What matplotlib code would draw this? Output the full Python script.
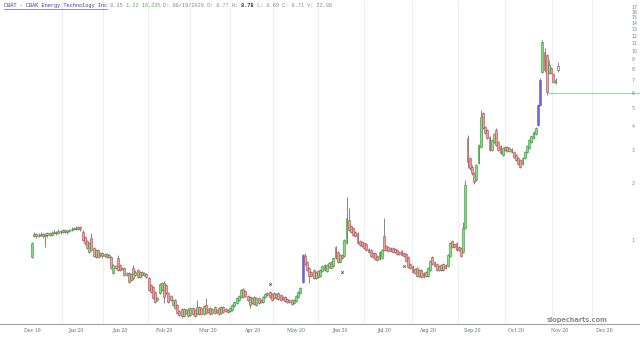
import numpy as np
import matplotlib
matplotlib.use("Agg")
import matplotlib.pyplot as plt
import matplotlib.ticker as ticker
from matplotlib.lines import Line2D

# daily OHLC, one entry per trading day (log price axis)
opens = [
    .813, 1.050, 1.076, 1.050, 1.063, 1.076, 1.050, 1.063, 1.089, 1.063,
    1.089, 1.102, 1.089, 1.116, 1.102, 1.129, 1.102, 1.116, 1.129, 1.143,
    1.157, 1.143, 1.171, 1.102, 1.037, .988, .864, 1.025, .907, .813,
    .886, .833, .854, .823, .844, .813, .813, .670, .729, .803,
    .738, .703, .711, .654, .670, .615, .711, .654, .695, .638,
    .678, .654, .661, .630, .579, .565, .532, .482, .525, .545,
    .593, .579, .525, .506, .454, .482, .454, .422, .432, .397,
    .427, .432, .402, .438, .427, .407, .443, .438, .407, .454,
    .432, .438, .412, .443, .427, .438, .412, .443, .432, .427,
    .422, .427, .448, .465, .482, .500, .551, .538, .506, .500,
    .465, .500, .454, .494, .482, .471, .500, .525, .532, .519,
    .525, .494, .525, .513, .500, .500, .488, .482, .482, .465,
    .477, .500, .525, .600, .823, .765, .711, .678, .695, .630,
    .686, .646, .686, .738, .686, .720, .765, .729, .919, .864,
    .765, .833, .823, .964, 1.275, 1.186, 1.157, 1.102, 1.089, .988,
    .976, .964, .953, .897, .886, .854, .854, .823, .794, .803,
    1.050, .930, .919, .907, .907, .897, .886, .864, .875, .854,
    .844, .813, .747, .729, .703, .711, .646, .695, .670, .678,
    .646, .695, .813, .765, .747, .729, .695, .747, .738, .729,
    .823, .988, .953, .964, .919, .907, .864, 1.157, 3.455, 2.711,
    2.430, 2.259, 2.075, 2.551, 3.098, 4.683, 3.951, 3.809, 3.497, 2.987,
    3.292, 3.809, 3.292, 3.136, 2.811, 3.098, 3.098, 2.951, 3.024, 2.915,
    2.811, 2.711, 2.646, 2.520, 2.711, 2.915, 3.060, 3.292, 3.455, 3.627,
    4.048, 5.163, 7.710, 9.840, 9.490, 7.620, 8.100, 7.530, 6.750, 7.900,
]
highs = [
    .976, 1.102, 1.089, 1.089, 1.102, 1.089, 1.089, 1.102, 1.102, 1.116,
    1.129, 1.116, 1.143, 1.129, 1.143, 1.143, 1.129, 1.143, 1.171, 1.171,
    1.186, 1.186, 1.186, 1.129, 1.050, 1.000, .976, 1.089, .919, .897,
    .897, .864, .864, .854, .854, .844, .823, .747, .738, .833,
    .747, .720, .720, .678, .678, .670, .738, .695, .703, .686,
    .686, .678, .670, .638, .586, .572, .538, .500, .593, .600,
    .608, .586, .532, .513, .488, .488, .460, .427, .438, .438,
    .432, .438, .443, .443, .432, .482, .448, .443, .454, .494,
    .438, .443, .438, .448, .432, .443, .448, .448, .438, .432,
    .443, .460, .477, .500, .513, .551, .558, .545, .513, .506,
    .500, .506, .500, .500, .488, .506, .525, .532, .538, .525,
    .532, .525, .532, .519, .506, .506, .494, .488, .488, .488,
    .513, .538, .565, .844, .854, .775, .720, .686, .703, .686,
    .695, .703, .738, .747, .747, .765, .775, .813, .930, .875,
    .844, .844, 1.012, 1.687, 1.476, 1.200, 1.171, 1.116, 1.102, 1.000,
    .988, .976, .964, .907, .897, .864, .864, .833, .875, .897,
    1.307, .941, .930, .919, .919, .907, .897, .875, .886, .864,
    .854, .823, .756, .738, .711, .720, .703, .703, .678, .686,
    .720, .784, .823, .775, .756, .738, .747, .756, .747, .844,
    .976, 1.000, .964, .976, .930, .919, 1.245, 2.075, 3.584, 2.744,
    2.490, 2.286, 2.520, 3.214, 4.858, 4.742, 4.000, 3.856, 3.540, 3.415,
    3.672, 3.903, 3.333, 3.174, 3.098, 3.136, 3.136, 3.098, 3.060, 2.951,
    2.846, 2.744, 2.678, 2.744, 2.951, 3.174, 3.415, 3.584, 3.764, 3.951,
    5.227, 7.170, 11.38, 10.33, 9.600, 8.930, 8.200, 7.620, 7.170, 8.710,
]
lows = [
    .803, 1.037, 1.025, 1.037, 1.050, 1.025, .919, 1.037, 1.050, 1.050,
    1.076, 1.063, 1.076, 1.076, 1.089, 1.089, 1.076, 1.102, 1.116, 1.129,
    1.129, 1.129, 1.116, .988, .941, .897, .854, .875, .813, .803,
    .803, .813, .803, .813, .803, .803, .703, .661, .703, .686,
    .686, .695, .646, .646, .593, .608, .615, .646, .630, .630,
    .646, .646, .630, .538, .525, .488, .465, .477, .519, .538,
    .465, .519, .465, .477, .448, .432, .407, .397, .388, .392,
    .407, .392, .397, .402, .392, .402, .402, .402, .402, .407,
    .412, .402, .407, .407, .412, .402, .407, .412, .417, .412,
    .417, .422, .443, .460, .477, .494, .494, .500, .477, .438,
    .460, .454, .448, .460, .465, .465, .494, .506, .494, .477,
    .488, .488, .482, .477, .482, .471, .465, .465, .454, .460,
    .471, .494, .519, .593, .738, .686, .593, .638, .623, .623,
    .630, .638, .678, .686, .678, .711, .703, .720, .794, .756,
    .756, .794, .813, .953, 1.116, 1.089, 1.050, 1.037, .953, .930,
    .919, .897, .875, .854, .813, .803, .784, .775, .784, .794,
    .875, .875, .864, .864, .854, .854, .833, .833, .823, .813,
    .765, .711, .703, .670, .661, .638, .638, .630, .630, .638,
    .638, .686, .738, .720, .686, .686, .686, .686, .703, .720,
    .813, .907, .907, .875, .875, .813, .854, 1.143, 2.400, 2.343,
    2.205, 1.976, 2.049, 2.520, 3.060, 3.856, 3.627, 3.415, 2.951, 2.951,
    3.253, 3.136, 2.951, 2.846, 2.777, 2.951, 2.915, 2.915, 2.880, 2.711,
    2.614, 2.490, 2.400, 2.490, 2.678, 2.880, 3.024, 3.253, 3.415, 3.584,
    4.000, 5.100, 7.620, 7.710, 5.830, 7.530, 7.530, 6.750, 6.670, 7.710,
]
closes = [
    .964, 1.076, 1.050, 1.063, 1.076, 1.050, 1.063, 1.089, 1.063, 1.089,
    1.102, 1.089, 1.116, 1.102, 1.129, 1.102, 1.116, 1.129, 1.143, 1.157,
    1.143, 1.171, 1.143, 1.000, .964, .907, .964, .886, .823, .886,
    .813, .854, .823, .844, .813, .833, .711, .738, .711, .695,
    .695, .711, .654, .670, .600, .661, .630, .678, .638, .678,
    .654, .670, .638, .545, .532, .494, .471, .494, .586, .593,
    .500, .525, .471, .482, .482, .438, .412, .402, .397, .432,
    .412, .397, .438, .407, .397, .443, .407, .407, .448, .412,
    .417, .407, .432, .412, .417, .407, .443, .417, .422, .417,
    .438, .454, .471, .494, .506, .545, .500, .506, .482, .454,
    .494, .460, .494, .465, .471, .500, .519, .513, .500, .482,
    .494, .519, .488, .482, .488, .477, .471, .471, .460, .482,
    .506, .532, .558, .833, .747, .695, .646, .646, .630, .678,
    .638, .695, .729, .695, .738, .756, .711, .803, .803, .765,
    .833, .803, 1.000, 1.307, 1.129, 1.102, 1.063, 1.050, .964, .941,
    .930, .907, .886, .864, .823, .813, .794, .784, .864, .886,
    .886, .886, .875, .875, .864, .864, .844, .844, .833, .823,
    .775, .720, .711, .678, .670, .646, .695, .638, .638, .646,
    .711, .775, .747, .729, .695, .695, .738, .695, .711, .833,
    .964, .919, .919, .886, .886, .823, 1.157, 1.952, 2.582, 2.400,
    2.259, 2.024, 2.490, 3.174, 4.463, 3.903, 3.672, 3.455, 2.987, 3.373,
    3.627, 3.174, 2.987, 2.880, 3.060, 2.987, 2.951, 3.060, 2.915, 2.744,
    2.646, 2.520, 2.430, 2.711, 2.915, 3.136, 3.373, 3.540, 3.717, 3.903,
    5.163, 7.000, 11.11, 7.900, 6.050, 8.400, 7.620, 6.830, 7.000, 8.300,
]
blue_days = [123, 230, 231]

# small event markers and the horizontal alert line
event_days = [108, 141, 169]
event_prices = [0.586, 0.678, 0.729]
alert_price = 5.97
alert_from = 234.5

price_ticks = list(range(1, 18))
date_ticks = [0, 20, 40, 60, 80, 100, 120, 140, 160, 180, 200, 220, 240, 260]
date_labels = ["Dec 19", "Jan 20", "Jan 20", "Feb 20", "Mar 20", "Apr 20", "May 20",
               "Jun 20", "Jul 20", "Aug 20", "Sep 20", "Oct 20", "Nov 20", "Dec 20"]
grid_days = [13.6, 32.3, 52.7, 71.8, 90, 109.5, 130, 151, 172.7, 193.6, 215, 236.4, 254.5]

UP_FILL, UP_EDGE = "#86dc86", "#3c9c3c"
DN_FILL, DN_EDGE = "#eb9f9f", "#b05858"
BLUE = "#6767d6"

fig = plt.figure(figsize=(6.4, 3.38), dpi=100)
ax = fig.add_axes([0, 14 / 338, 1, 1 - 14 / 338])
ax.set_yscale("log")
ax.set_xlim(-14.55, 276.4)
ax.set_ylim(0.36, 18.5)

ax.vlines(grid_days, 0.36, 18.5, color="#ededed", linewidth=0.6, zorder=0)

o, h, l, c = (np.array(a) for a in (opens, highs, lows, closes))
x = np.arange(len(c))
ax.vlines(x, l, h, color="#666666", linewidth=0.55, zorder=2)

fills, edges = [], []
for i in x:
    if i in blue_days:
        fills.append(BLUE); edges.append(BLUE)
    elif i == len(c) - 1:
        fills.append("white"); edges.append("#555555")
    elif c[i] >= o[i]:
        fills.append(UP_FILL); edges.append(UP_EDGE)
    else:
        fills.append(DN_FILL); edges.append(DN_EDGE)
bottom = np.minimum(o, c)
height = np.maximum(np.abs(c - o), bottom * 0.012)
ax.bar(x, height, bottom=bottom, width=0.85, color=fills, edgecolor=edges,
       linewidth=0.45, zorder=3)

ax.plot(event_days, event_prices, "x", ms=1.8, mew=0.6, color="#555555", zorder=4)
ax.hlines(alert_price, alert_from, 276.4, color="#9ad89a", linewidth=0.8, zorder=1)

for s in ("top", "left", "right"):
    ax.spines[s].set_visible(False)
ax.spines["bottom"].set_color("#a8a8a8")
ax.spines["bottom"].set_linewidth(0.9)

ax.yaxis.tick_right()
ax.yaxis.set_major_locator(ticker.FixedLocator(price_ticks))
ax.yaxis.set_major_formatter(ticker.FixedFormatter([str(t) for t in price_ticks]))
ax.yaxis.set_minor_locator(ticker.NullLocator())
ax.tick_params(axis="y", length=0, pad=-6, labelsize=3.4, labelcolor="#7a8a7a")
ax.set_xticks(date_ticks)
ax.set_xticklabels(date_labels, fontfamily="DejaVu Serif")
ax.tick_params(axis="x", length=0, pad=3, labelsize=3.4, labelcolor="#5f7060")

# header line, monospace, coloured segments
CW = 3.12  # px per character
segments = [
    ("CBAT - CBAK Energy Technology Inc", "#3a3aa8", "normal"),
    (" 8.35", "#8a8a8a", "normal"),
    (" 1.22 16.23%", "#55aa55", "normal"),
    (" D: 08/19/2020 O: 8.77 H:", "#8a8a8a", "normal"),
    (" 8.78", "#333333", "bold"),
    (" L: 8.69 C: 8.71 V: 22.80", "#8a8a8a", "normal"),
]
pos = 0
for text, col, wt in segments:
    fig.text((4 + pos * CW) / 640, 1 - 5.5 / 338, text, fontsize=3.75,
             family="Liberation Mono", color=col, fontweight=wt, va="center")
    pos += len(text)
title_len = len(segments[0][0])
fig.add_artist(Line2D([4 / 640, (4 + title_len * CW) / 640], [1 - 8.5 / 338] * 2,
                      transform=fig.transFigure, color="#3a3aa8", linewidth=0.4))

fig.text(577 / 640, 1 - 320 / 338, "slopecharts.com", ha="center", va="center",
         fontsize=4.8, fontweight="bold", color="#8c8c8c")

fig.savefig("out.png", dpi=100)
